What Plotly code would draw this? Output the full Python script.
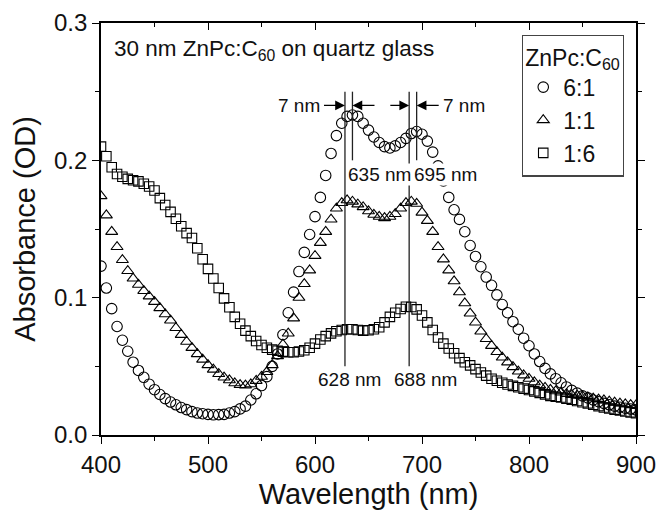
import plotly.graph_objects as go

# Wavelength grid (nm)
wavelength = list(range(400, 905, 5))

# ZnPc:C60 6:1 (circles)
abs_6_1 = [0.123, 0.107, 0.092, 0.079, 0.069, 0.061, 0.053, 0.047, 0.042, 0.037,
           0.033, 0.0295, 0.0265, 0.024, 0.022, 0.020, 0.0185, 0.017, 0.016, 0.0155,
           0.015, 0.0147, 0.0148, 0.015, 0.016, 0.017, 0.019, 0.021, 0.0255, 0.030,
           0.036, 0.0425, 0.050, 0.059, 0.073, 0.089, 0.104, 0.119, 0.133, 0.146,
           0.159, 0.173, 0.189, 0.205, 0.218, 0.227, 0.232, 0.233, 0.232, 0.227,
           0.222, 0.217, 0.213, 0.210, 0.209, 0.2105, 0.213, 0.216, 0.2195, 0.221,
           0.219, 0.214, 0.206, 0.196, 0.185, 0.173, 0.164, 0.157, 0.148, 0.138,
           0.130, 0.1225, 0.115, 0.109, 0.102, 0.095, 0.089, 0.0825, 0.077, 0.0705,
           0.065, 0.059, 0.0535, 0.0485, 0.0445, 0.041, 0.038, 0.035, 0.0325, 0.0305,
           0.0285, 0.027, 0.0255, 0.0242, 0.023, 0.022, 0.021, 0.0202, 0.0195, 0.0189,
           0.0183]

# ZnPc:C60 1:1 (triangles)
abs_1_1 = [0.174, 0.160, 0.148, 0.137, 0.1275, 0.1195, 0.114, 0.1095, 0.105, 0.101,
           0.097, 0.0925, 0.088, 0.0835, 0.078, 0.073, 0.068, 0.0635, 0.059, 0.055,
           0.051, 0.0477, 0.0445, 0.042, 0.040, 0.0378, 0.0365, 0.0362, 0.037, 0.0395,
           0.0425, 0.046, 0.051, 0.0575, 0.066, 0.074, 0.085, 0.100, 0.110, 0.120,
           0.1305, 0.140, 0.148, 0.157, 0.165, 0.169, 0.171, 0.170, 0.168, 0.166,
           0.163, 0.1605, 0.159, 0.158, 0.159, 0.161, 0.165, 0.169, 0.170, 0.1685,
           0.162, 0.156, 0.148, 0.137, 0.128, 0.120, 0.112, 0.104, 0.096, 0.0886,
           0.082, 0.0755, 0.070, 0.065, 0.0605, 0.0565, 0.053, 0.0495, 0.0463, 0.0435,
           0.041, 0.0385, 0.0362, 0.0345, 0.033, 0.032, 0.031, 0.030, 0.0292, 0.0288,
           0.0283, 0.0275, 0.0267, 0.026, 0.0253, 0.0245, 0.0237, 0.023, 0.0225, 0.022,
           0.0217]

# ZnPc:C60 1:6 (squares)
abs_1_6 = [0.210, 0.203, 0.195, 0.190, 0.188, 0.1865, 0.1855, 0.1847, 0.183, 0.181,
           0.178, 0.1725, 0.1675, 0.1625, 0.1575, 0.152, 0.147, 0.1435, 0.136, 0.128,
           0.121, 0.114, 0.107, 0.0995, 0.093, 0.086, 0.081, 0.076, 0.072, 0.0685,
           0.0655, 0.0635, 0.0622, 0.0613, 0.0607, 0.0603, 0.0603, 0.0608, 0.0617, 0.0635,
           0.0665, 0.0695, 0.072, 0.074, 0.0755, 0.0765, 0.077, 0.077, 0.0765, 0.076,
           0.0763, 0.077, 0.0785, 0.082, 0.086, 0.089, 0.0918, 0.0934, 0.0932, 0.0915,
           0.087, 0.082, 0.0765, 0.071, 0.0665, 0.063, 0.0595, 0.056, 0.053, 0.0507,
           0.048, 0.0455, 0.0432, 0.041, 0.0395, 0.038, 0.0368, 0.0358, 0.0348, 0.0338,
           0.0328, 0.0318, 0.0307, 0.0296, 0.0285, 0.0278, 0.0273, 0.0265, 0.0257, 0.0248,
           0.0238, 0.023, 0.022, 0.021, 0.020, 0.0193, 0.0185, 0.0178, 0.0171, 0.0165,
           0.0158]

series_names = ["6:1", "1:1", "1:6"]
series_symbols = ["circle-open", "triangle-up-open", "square-open"]
series_sizes = [10.5, 10.5, 9.5]

# Peak positions (nm): 1:6 peaks (long lines), 6:1 peaks (short lines)
peaks_low = [628, 688]
peaks_high = [635, 695]

x_ticks = [400, 500, 600, 700, 800, 900]
y_ticks = [0.0, 0.1, 0.2, 0.3]

FONT = "Arial, 'Liberation Sans', Helvetica, sans-serif"

fig = go.Figure()
for name, ys, sym, sz in zip(series_names, [abs_6_1, abs_1_1, abs_1_6], series_symbols, series_sizes):
    fig.add_trace(go.Scatter(
        x=wavelength, y=ys, mode="markers", name=name,
        marker=dict(symbol=sym, size=sz, color="black", line=dict(width=1.1, color="black")),
    ))

# invisible trace to activate the mirrored (top/right) axes
fig.add_trace(go.Scatter(x=wavelength, y=abs_6_1, xaxis="x2", yaxis="y2", mode="lines",
                         line=dict(width=0), showlegend=False, hoverinfo="skip", opacity=0))

# vertical peak lines
for p in peaks_low:
    fig.add_shape(type="line", xref="x", yref="y", x0=p, x1=p, y0=0.05, y1=0.25,
                  line=dict(color="#222", width=1.3))
for p in peaks_high:
    fig.add_shape(type="line", xref="x", yref="y", x0=p, x1=p, y0=0.2, y1=0.25,
                  line=dict(color="#222", width=1.3))

# arrows: (head, tail)
arrow_y = 0.24
arrows = [(peaks_low[0], 607), (peaks_high[0], 657), (peaks_low[1], 669), (peaks_high[1], 717)]
for head, tail in arrows:
    fig.add_annotation(x=head, y=arrow_y, ax=tail, ay=arrow_y, axref="x", ayref="y",
                       xref="x", yref="y", text="", showarrow=True,
                       arrowhead=2, arrowsize=1.4, arrowwidth=1.4, arrowcolor="black")

lab_font = dict(family=FONT, size=19, color="#111")
fig.add_annotation(x=607, y=arrow_y, xref="x", yref="y", text="7 nm", showarrow=False,
                   xanchor="right", yanchor="middle", font=lab_font)
fig.add_annotation(x=718, y=arrow_y, xref="x", yref="y", text="7 nm", showarrow=False,
                   xanchor="left", yanchor="middle", font=lab_font)
fig.add_annotation(x=629.6, y=0.19, xref="x", yref="y", text=f"{peaks_high[0]} nm", showarrow=False,
                   xanchor="left", yanchor="middle", font=lab_font, bgcolor="white", borderpad=0)
fig.add_annotation(x=691.9, y=0.19, xref="x", yref="y", text=f"{peaks_high[1]} nm", showarrow=False,
                   xanchor="left", yanchor="middle", font=lab_font, bgcolor="white", borderpad=0)
fig.add_annotation(x=632.5, y=0.0405, xref="x", yref="y", text=f"{peaks_low[0]} nm", showarrow=False,
                   xanchor="center", yanchor="middle", font=lab_font)
fig.add_annotation(x=702.8, y=0.0405, xref="x", yref="y", text=f"{peaks_low[1]} nm", showarrow=False,
                   xanchor="center", yanchor="middle", font=lab_font)

fig.add_annotation(x=410.3, y=0.2805, xref="x", yref="y",
                   text="30 nm ZnPc:C<sub>60</sub> on quartz glass", showarrow=False,
                   xanchor="left", yanchor="middle", font=dict(family=FONT, size=22.5, color="#111"))

axis_common = dict(showline=True, linecolor="black", linewidth=1.6, showgrid=False,
                   zeroline=False, automargin=False)

fig.update_layout(
    width=659, height=513,
    margin=dict(l=101, r=23, t=23, b=78),
    paper_bgcolor="white", plot_bgcolor="white",
    font=dict(family=FONT, color="#111"),
    xaxis=dict(range=[400, 900], tickvals=x_ticks, ticks="outside", ticklen=7, tickwidth=1.4,
               tickcolor="black", tickfont=dict(size=24, family=FONT),
               minor=dict(dtick=50, ticklen=4, ticks="outside", tickwidth=1.4, tickcolor="black"),
               title=dict(text="Wavelength (nm)", font=dict(size=29, family=FONT), standoff=4),
               **axis_common),
    yaxis=dict(range=[0, 0.3], tickvals=y_ticks, ticktext=["0.0", "0.1", "0.2", "0.3"],
               ticks="outside", ticklen=7, tickwidth=1.4, tickcolor="black",
               tickfont=dict(size=24, family=FONT),
               minor=dict(dtick=0.05, ticklen=4, ticks="outside", tickwidth=1.4, tickcolor="black"),
               title=dict(text="Absorbance (OD)", font=dict(size=29, family=FONT), standoff=10),
               **axis_common),
    xaxis2=dict(range=[400, 900], overlaying="x", side="top", anchor="y", tickvals=x_ticks,
                ticks="inside", ticklen=7, tickwidth=1.4, tickcolor="black", showticklabels=False,
                minor=dict(dtick=50, ticklen=4, ticks="inside", tickwidth=1.4, tickcolor="black"),
                **axis_common),
    yaxis2=dict(range=[0, 0.3], overlaying="y", side="right", anchor="x", tickvals=y_ticks,
                ticks="outside", ticklen=7, tickwidth=1.4, tickcolor="black", showticklabels=False,
                minor=dict(dtick=0.05, ticklen=4, ticks="outside", tickwidth=1.4, tickcolor="black"),
                **axis_common),
    legend=dict(x=0.787, y=0.972, xanchor="left", yanchor="top",
                bgcolor="white", bordercolor="#444", borderwidth=1.2,
                font=dict(size=23, family=FONT, color="#111"),
                title=dict(text="ZnPc:C<sub>60</sub>", font=dict(size=23, family=FONT)),
                itemwidth=30, tracegroupgap=0),
    showlegend=True,
)

fig.write_html("out.html", config={"displayModeBar": False},
               post_script="document.body.style.margin='0';document.body.style.overflow='hidden';")
